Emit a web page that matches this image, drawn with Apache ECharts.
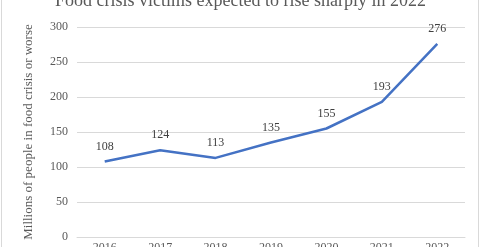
<!DOCTYPE html>
<html><head><meta charset="utf-8">
<script src="https://cdn.jsdelivr.net/npm/echarts@6/dist/echarts.min.js"></script>
<style>html,body{margin:0;padding:0;background:#fff;}#c{width:481px;height:247px;}</style>
</head><body><div id="c"></div>
<script>
const years = ['2016', '2017', '2018', '2019', '2020', '2021', '2022'];
const victims = [108, 124, 113, 135, 155, 193, 276];
const yTicks = [0, 50, 100, 150, 200, 250, 300];
const titleText = 'Food crisis victims expected to rise sharply in 2022';
const yName = 'Millions of people in food crisis or worse';

const serif = '"Liberation Serif", "DejaVu Serif", serif';
const chart = echarts.init(document.getElementById('c'), null, {renderer: 'canvas'});
chart.setOption({
  animation: false,
  title: {
    text: titleText, left: 'center', top: -13,
    textStyle: {fontFamily: serif, fontSize: 18, fontWeight: 'normal', color: '#595959'}
  },
  grid: {left: 77, right: 16, top: 27, bottom: 10, containLabel: false, outerBoundsMode: 'none'},
  xAxis: {
    type: 'category', data: years, boundaryGap: true,
    axisLine: {show: true, lineStyle: {color: '#d9d9d9'}},
    axisTick: {show: false},
    axisLabel: {fontFamily: serif, fontSize: 12, color: '#595959', margin: 5}
  },
  yAxis: {
    type: 'value', min: yTicks[0], max: yTicks[yTicks.length - 1], interval: 50,
    name: yName, nameLocation: 'middle', nameGap: 42, nameRotate: 90,
    nameTextStyle: {fontFamily: serif, fontSize: 13, color: '#595959'},
    axisLine: {show: false}, axisTick: {show: false},
    axisLabel: {fontFamily: serif, fontSize: 12, color: '#595959', margin: 9},
    splitLine: {lineStyle: {color: '#d9d9d9', width: 1}}
  },
  series: [{
    type: 'line', data: victims, symbol: 'circle', symbolSize: 0, showSymbol: true,
    itemStyle: {color: '#4472c4'},
    lineStyle: {color: '#4472c4', width: 2.5},
    label: {show: true, position: 'top', distance: 9, fontFamily: serif, fontSize: 12, color: '#404040'}
  }],
  graphic: [
    {type: 'line', shape: {x1: 1.5, y1: 0, x2: 1.5, y2: 247}, style: {stroke: '#d9d9d9', lineWidth: 1}},
    {type: 'line', shape: {x1: 478.5, y1: 0, x2: 478.5, y2: 247}, style: {stroke: '#d9d9d9', lineWidth: 1}}
  ]
});
</script></body></html>
